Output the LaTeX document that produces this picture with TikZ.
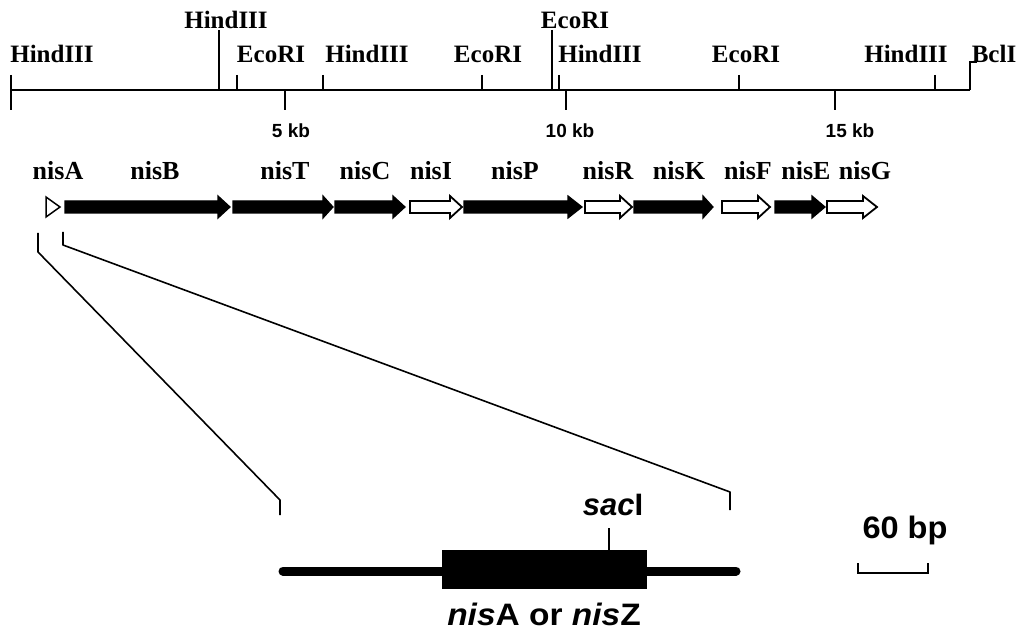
\documentclass[tikz,border=0pt]{standalone}
\usepackage{fontspec}
\setmainfont{Liberation Serif}
\setsansfont{Liberation Sans}
\begin{document}
\begin{tikzpicture}[x=1pt,y=-1pt,
  maplabel/.style={font=\bfseries\fontsize{25}{27}\selectfont, inner sep=0pt},
  kblabel/.style={font=\sffamily\bfseries\fontsize{19}{21}\selectfont, inner sep=0pt},
  genelabel/.style={font=\bfseries\fontsize{26}{28}\selectfont, inner sep=0pt},
  sanslabel/.style={font=\sffamily\bfseries\fontsize{31}{33}\selectfont, inner sep=0pt},
  mapline/.style={line width=2pt},
  tickline/.style={line width=1.8pt},
  zoomline/.style={line width=1.6pt, line join=round},
  filledgene/.style={fill=black, draw=black, line width=1.2pt, line join=miter},
  opengene/.style={fill=white, draw=black, line width=1.8pt, line join=miter},
]
\useasboundingbox (0,0) rectangle (1028,636);

% ---- restriction map ----
\coordinate (mL) at (11,90);
\coordinate (mR) at (970,90);
\draw[mapline] (mL) -- (mR);
\draw[tickline] (11,75) -- (11,110);

\node[maplabel] (h1) at (52,54) {HindIII};
\node[maplabel] (h2) at (226,20) {HindIII};
\node[maplabel] (e1) at (271,54) {EcoRI};
\node[maplabel] (h3) at (367,54) {HindIII};
\node[maplabel] (e2) at (488,54) {EcoRI};
\node[maplabel] (e3) at (575,20) {EcoRI};
\node[maplabel] (h4) at (600,54) {HindIII};
\node[maplabel] (e4) at (746,54) {EcoRI};
\node[maplabel] (h5) at (906,54) {HindIII};
\node[maplabel] (b1) at (994,54) {BclI};

\draw[tickline] (219,30) -- (219,90);
\draw[tickline] (237,75) -- (237,90);
\draw[tickline] (323,75) -- (323,90);
\draw[tickline] (482,75) -- (482,90);
\draw[tickline] (552,30) -- (552,90);
\draw[tickline] (559,75) -- (559,90);
\draw[tickline] (739,75) -- (739,90);
\draw[tickline] (935,75) -- (935,90);
\draw[tickline, line join=miter] (970,90) -- (970,62) -- (977,62);

% kb scale ticks
\draw[tickline] (285,90) -- (285,110);
\draw[tickline] (566,90) -- (566,110);
\draw[tickline] (835,90) -- (835,110);
\node[kblabel] (k5) at (291,131) {5 kb};
\node[kblabel] (k10) at (570,131) {10 kb};
\node[kblabel] (k15) at (850,131) {15 kb};

% ---- gene labels ----
\node[genelabel] (lA) at (58,171) {nisA};
\node[genelabel] (lB) at (155,171) {nisB};
\node[genelabel] (lT) at (285,171) {nisT};
\node[genelabel] (lC) at (365,171) {nisC};
\node[genelabel] (lI) at (431,171) {nisI};
\node[genelabel] (lP) at (515,171) {nisP};
\node[genelabel] (lR) at (608,171) {nisR};
\node[genelabel] (lK) at (679,171) {nisK};
\node[genelabel] (lF) at (748,171) {nisF};
\node[genelabel] (lE) at (806,171) {nisE};
\node[genelabel] (lG) at (865,171) {nisG};

% ---- gene arrows ----
\draw[opengene, line width=1.5pt] (46,197) -- (60,207) -- (46,217) -- cycle;
\foreach \a/\b/\c/\s in {65/218/230/filledgene, 233/323/333/filledgene, 335/393/405/filledgene,
  410/450/462/opengene, 464/568/582/filledgene, 585/620/632/opengene, 634/703/713/filledgene,
  722/758/770/opengene, 775/812/825/filledgene, 827/863/877/opengene}
  \draw[\s] (\a,201) -- (\b,201) -- (\b,196) -- (\c,207) -- (\b,218) -- (\b,213) -- (\a,213) -- cycle;

% ---- zoom lines ----
\coordinate (zL0) at (38,233);
\coordinate (zL1) at (38,252);
\coordinate (zL2) at (280,500);
\coordinate (zL3) at (280,515);
\coordinate (zR0) at (63,232);
\coordinate (zR1) at (63,245);
\coordinate (zR2) at (730,492);
\coordinate (zR3) at (730,510);
\draw[zoomline] (zL0) -- (zL1) -- (zL2) -- (zL3);
\draw[zoomline] (zR0) -- (zR1) -- (zR2) -- (zR3);

% ---- enlarged nisA ----
\coordinate (bL) at (283,571);
\coordinate (bR) at (736,571);
\draw[line width=9pt, line cap=round] (bL) -- (bR);
\node[fill=black, draw=black, minimum width=204pt, minimum height=38pt, inner sep=0pt] (box) at (544,569) {};
\coordinate (sacT) at (609,528);
\draw[line width=1.6pt] (sacT) -- (609,550);
\node[sanslabel] (sac) at (613,505) {\textit{sac}I};
\node[sanslabel] (nisAZ) at (544,614) {\scalebox{1.08}[1]{\textit{nis}A or \textit{nis}Z}};

% ---- 60 bp scale bar ----
\node[sanslabel] (bp) at (905,530) {\scalebox{1.05}[1]{60 bp}};
\coordinate (sb0) at (858,563);
\coordinate (sb1) at (928,563);
\draw[line width=1.8pt, line join=miter] (sb0) -- (858,573) -- (928,573) -- (sb1);
\end{tikzpicture}
\end{document}
